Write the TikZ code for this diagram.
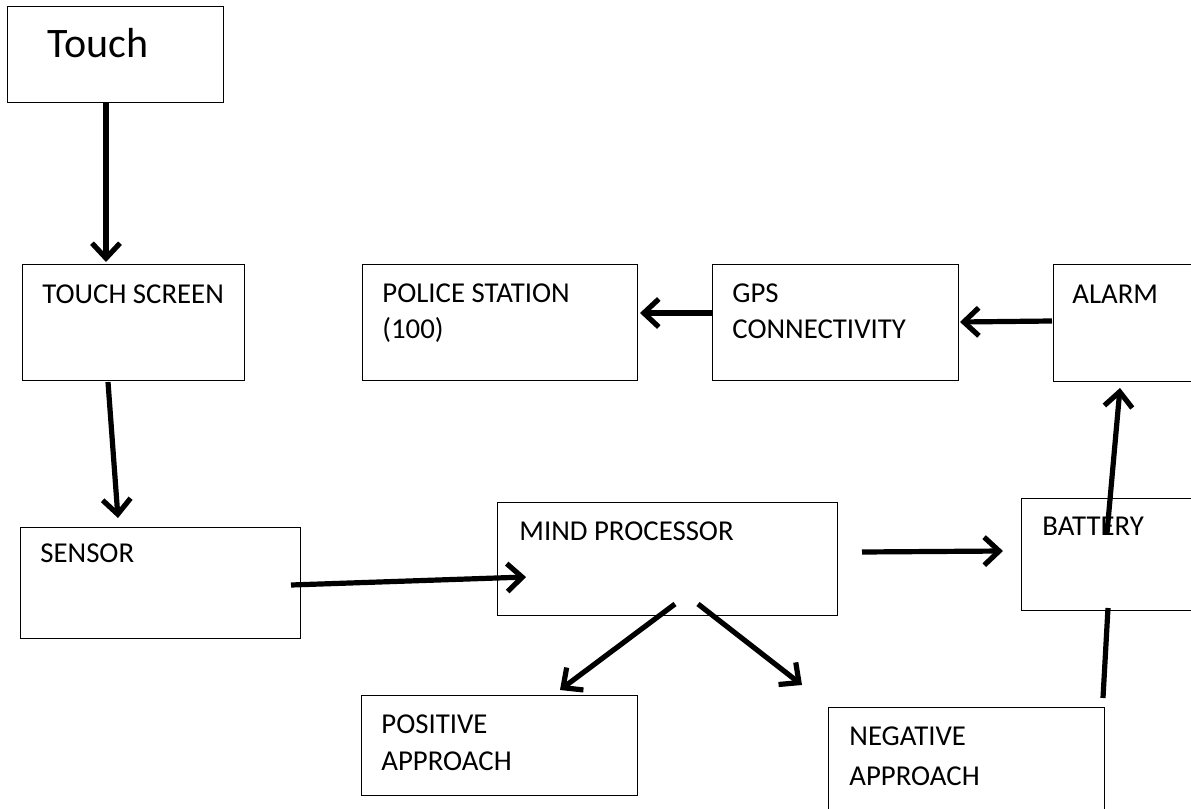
\documentclass[tikz,border=0pt]{standalone}
\usepackage{fontspec}
\setmainfont{Carlito}
\usetikzlibrary{arrows.meta}
\tikzset{
  box/.style={draw, line width=0.6pt, rectangle, anchor=north west, inner sep=0pt},
  lbl/.style={anchor=base west, inner sep=0pt, font=\fontsize{14.4}{16}\selectfont},
  conn/.style={line width=2.6pt, -{Straight Barb[length=7.5pt,width=14pt]}},
  plain/.style={line width=2.6pt}
}
\begin{document}
\begin{tikzpicture}[x=0.5pt,y=-0.5pt]
\clip (0,0) rectangle (1191,809);
\fill[white] (0,0) rectangle (1191,809);
% boxes
\node[box, minimum width=108pt, minimum height=48pt] (touch) at (7,6) {};
\node[box, minimum width=111pt, minimum height=58pt] (tscreen) at (22,264) {};
\node[box, minimum width=140pt, minimum height=55.5pt] (sensor) at (20,527) {};
\node[box, minimum width=137.5pt, minimum height=58pt] (police) at (362,264) {};
\node[box, minimum width=123pt, minimum height=58pt] (gps) at (712,264) {};
\node[box, minimum width=80pt, minimum height=58.5pt] (alarm) at (1053,264) {};
\node[box, minimum width=170pt, minimum height=56.5pt] (mind) at (497,502) {};
\node[box, minimum width=90pt, minimum height=56pt] (battery) at (1021,498) {};
\node[box, minimum width=138pt, minimum height=50pt] (positive) at (361,695) {};
\node[box, minimum width=138pt, minimum height=55pt] (negative) at (828,707) {};
% labels
\node[anchor=base west, inner sep=0pt, font=\fontsize{21}{24}\selectfont] (ttouch) at (47,57) {Touch};
\node[lbl] (ttscreen) at (42,303) {TOUCH SCREEN};
\node[lbl] (tpolice1) at (382,302) {POLICE STATION};
\node[lbl] (tpolice2) at (382,338) {(100)};
\node[lbl] (tgps1) at (732,302) {GPS};
\node[lbl] (tgps2) at (732,338) {CONNECTIVITY};
\node[lbl] (talarm) at (1072,303) {ALARM};
\node[lbl] (tsensor) at (40,562) {SENSOR};
\node[lbl] (tmind) at (519,540) {MIND PROCESSOR};
\node[lbl] (tbattery) at (1042,535) {BATTERY};
\node[lbl] (tpos1) at (381,733) {POSITIVE};
\node[lbl] (tpos2) at (381,770) {APPROACH};
\node[lbl] (tneg1) at (849,745) {NEGATIVE};
\node[lbl] (tneg2) at (849,785) {APPROACH};
% connector endpoints
\coordinate (c1s) at (106,102);  \coordinate (c1e) at (106,262);
\coordinate (c2s) at (108,382);  \coordinate (c2e) at (118,518);
\coordinate (c3s) at (291,585);  \coordinate (c3e) at (526,577);
\coordinate (c4s) at (675,604);  \coordinate (c4e) at (560,690);
\coordinate (c5s) at (698,604);  \coordinate (c5e) at (802,685);
\coordinate (c6s) at (862,552);  \coordinate (c6e) at (1003,551);
\coordinate (c7s) at (1103,698); \coordinate (c7e) at (1108,608);
\coordinate (c8s) at (1107,533); \coordinate (c8e) at (1120,388);
\coordinate (c9s) at (1052,321); \coordinate (c9e) at (960,322);
\coordinate (c10s) at (712,313); \coordinate (c10e) at (640,313);
% connectors
\draw[conn] (c1s) -- (c1e);
\draw[conn] (c2s) -- (c2e);
\draw[conn] (c3s) -- (c3e);
\draw[conn] (c4s) -- (c4e);
\draw[conn] (c5s) -- (c5e);
\draw[conn] (c6s) -- (c6e);
\draw[plain] (c7s) -- (c7e);
\draw[conn] (c8s) -- (c8e);
\draw[conn] (c9s) -- (c9e);
\draw[conn] (c10s) -- (c10e);
\end{tikzpicture}
\end{document}
